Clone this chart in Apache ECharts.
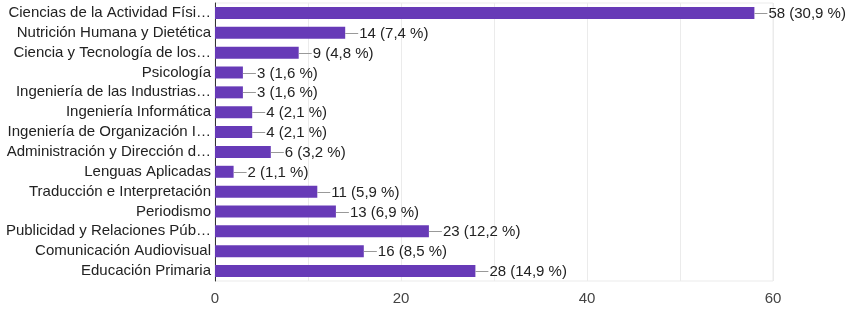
<!DOCTYPE html>
<html>
<head>
<meta charset="utf-8">
<script src="https://cdn.jsdelivr.net/npm/echarts@6/dist/echarts.min.js"></script>
<style>
  html, body { margin: 0; padding: 0; background: #fff; }
  #chart { width: 849px; height: 323px; }
</style>
</head>
<body>
<div id="chart"></div>
<script>
// Response counts per degree programme
const categories = [
  'Ciencias de la Actividad Físi…',
  'Nutrición Humana y Dietética',
  'Ciencia y Tecnología de los…',
  'Psicología',
  'Ingeniería de las Industrias…',
  'Ingeniería Informática',
  'Ingeniería de Organización I…',
  'Administración y Dirección d…',
  'Lenguas Aplicadas',
  'Traducción e Interpretación',
  'Periodismo',
  'Publicidad y Relaciones Púb…',
  'Comunicación Audiovisual',
  'Educación Primaria'
];
const counts = [58, 14, 9, 3, 3, 4, 4, 6, 2, 11, 13, 23, 16, 28];
const percents = ['30,9', '7,4', '4,8', '1,6', '1,6', '2,1', '2,1', '3,2', '1,1', '5,9', '6,9', '12,2', '8,5', '14,9'];
const xTicks = [0, 20, 40, 60];

const FONT = '"Liberation Sans", Arial, sans-serif';
const chart = echarts.init(document.getElementById('chart'));

chart.setOption({
  animation: false,
  grid: {
    left: 215, right: 76, top: 3, bottom: 42,
    show: true, borderColor: '#ebebeb', borderWidth: 1
  },
  xAxis: {
    type: 'value',
    min: 0, max: 60, interval: 10,
    axisLine: { show: false },
    axisTick: { show: false },
    splitLine: { lineStyle: { color: '#ebebeb', width: 1 } },
    axisLabel: {
      color: '#444', fontFamily: FONT, fontSize: 15, margin: 10,
      formatter: v => (xTicks.indexOf(v) >= 0 ? String(v) : '')
    }
  },
  yAxis: {
    type: 'category',
    data: categories,
    inverse: true,
    axisLine: { show: true, lineStyle: { color: '#333', width: 1 } },
    axisTick: { show: false },
    axisLabel: { color: '#222', fontFamily: FONT, fontSize: 15, margin: 4 }
  },
  series: [
    {
      type: 'bar',
      data: counts,
      barWidth: 12,
      itemStyle: { color: '#673ab7' },
      z: 2
    },
    {
      // leader line and "n (p %)" label to the right of each bar
      type: 'custom',
      data: counts.map((v, i) => [v, i]),
      z: 3,
      renderItem: function (params, api) {
        const i = api.value(1);
        const p = api.coord([api.value(0), i]);
        const x = p[0], y = Math.round(p[1]) + 0.5;
        return {
          type: 'group',
          children: [
            {
              type: 'line',
              shape: { x1: x, y1: y, x2: x + 13, y2: y },
              style: { stroke: '#999', lineWidth: 1 }
            },
            {
              type: 'text',
              x: x + 14, y: y,
              style: {
                text: counts[i] + ' (' + percents[i] + ' %)',
                fill: '#222',
                font: '15px ' + FONT,
                textAlign: 'left',
                textVerticalAlign: 'middle'
              }
            }
          ]
        };
      }
    }
  ]
});
</script>
</body>
</html>
